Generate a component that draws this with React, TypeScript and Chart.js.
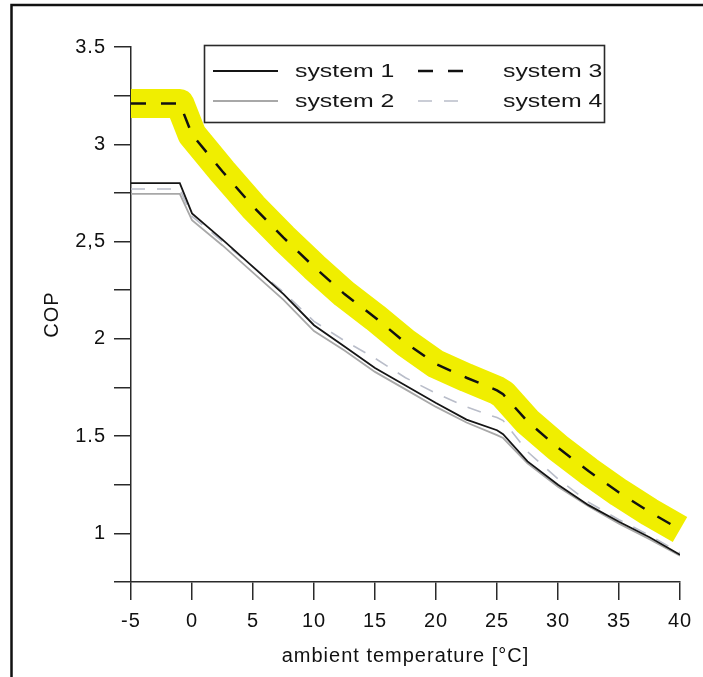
import { useEffect, useRef } from 'react';
import { Chart, registerables } from 'chart.js';

Chart.register(...registerables);

// ---- data ----
const temperatures = [-5, -1, 0, 2.5, 5, 7.5, 10, 12.5, 15, 17.5, 20, 22.5, 25, 25.5, 27.5, 30, 32.5, 35, 37.5, 40];
const system1 = [2.8, 2.8, 2.645, 2.51, 2.37, 2.23, 2.07, 1.96, 1.85, 1.76, 1.67, 1.585, 1.53, 1.51, 1.37, 1.25, 1.145, 1.06, 0.98, 0.89];
const system2 = [2.745, 2.745, 2.61, 2.48, 2.34, 2.2, 2.04, 1.94, 1.83, 1.74, 1.65, 1.57, 1.505, 1.49, 1.36, 1.24, 1.14, 1.05, 0.97, 0.885];
const system3 = [3.21, 3.21, 3.05, 2.86, 2.68, 2.52, 2.37, 2.23, 2.11, 1.98, 1.87, 1.8, 1.735, 1.715, 1.575, 1.44, 1.32, 1.21, 1.11, 1.02];
const system4 = [2.77, 2.77, 2.63, 2.5, 2.37, 2.24, 2.09, 1.99, 1.9, 1.8, 1.72, 1.65, 1.595, 1.58, 1.42, 1.28, 1.16, 1.07, 0.99, 0.9];
const seriesNames = ['system 1', 'system 2', 'system 3', 'system 4'];

const xMin = -5;
const xMax = 40;
const xStep = 5;
const yMin = 0.75;
const yMax = 3.5;
const yStep = 0.25;
const yLabelValues = [1, 1.5, 2, 2.5, 3, 3.5];
const yLabelTexts = ['1', '1.5', '2', '2,5', '3', '3.5'];

const xTitle = 'ambient temperature [°C]';
const yTitle = 'COP';

const FONT = '"Liberation Sans", Arial, sans-serif';

const toPoints = (ys: number[]) => temperatures.map((t, i) => ({ x: t, y: ys[i] }));

const pagePlugin = {
  id: 'pageFrame',
  beforeDraw(chart: any) {
    const ctx = chart.ctx as CanvasRenderingContext2D;
    ctx.save();
    ctx.fillStyle = '#ffffff';
    ctx.fillRect(0, 0, chart.width, chart.height);
    ctx.strokeStyle = '#111';
    ctx.lineWidth = 2.5;
    ctx.beginPath();
    ctx.moveTo(11.5, chart.height);
    ctx.lineTo(11.5, 5);
    ctx.lineTo(chart.width, 5);
    ctx.stroke();
    ctx.restore();
    (ctx as any).letterSpacing = '1px';
  },
};

const boxLegendPlugin = {
  id: 'boxLegend',
  afterDatasetsDraw(chart: any) {
    const ctx = chart.ctx as CanvasRenderingContext2D;
    const box = { x: 204, y: 45, w: 400, h: 77 };
    const rows = [71, 101];
    const cols = [
      { s0: 213, s1: 278, tx: 295 },
      { s0: 418, s1: 470, tx: 503 },
    ];
    const place = [
      { ds: 0, c: 0, r: 0 },
      { ds: 1, c: 0, r: 1 },
      { ds: 2, c: 1, r: 0 },
      { ds: 3, c: 1, r: 1 },
    ];
    ctx.save();
    (ctx as any).letterSpacing = '0px';
    ctx.fillStyle = '#ffffff';
    ctx.fillRect(box.x, box.y, box.w, box.h);
    ctx.strokeStyle = '#2a2a2a';
    ctx.lineWidth = 1.6;
    ctx.strokeRect(box.x + 0.5, box.y + 0.5, box.w, box.h);
    for (const p of place) {
      const ds = chart.data.datasets[p.ds];
      const col = cols[p.c];
      const y = rows[p.r];
      ctx.save();
      ctx.strokeStyle = ds.borderColor;
      ctx.lineWidth = ds.borderWidth;
      ctx.setLineDash(ds.borderDash || []);
      ctx.beginPath();
      ctx.moveTo(col.s0, y);
      ctx.lineTo(col.s1, y);
      ctx.stroke();
      ctx.restore();
      ctx.save();
      ctx.fillStyle = '#161616';
      ctx.font = '18px ' + FONT;
      ctx.textBaseline = 'middle';
      ctx.textAlign = 'left';
      ctx.translate(col.tx, y + 1);
      ctx.scale(1.38, 1);
      ctx.fillText(ds.label, 0, 0);
      ctx.restore();
    }
    ctx.restore();
  },
};

export default function App() {
  const canvasRef = useRef<HTMLCanvasElement | null>(null);

  useEffect(() => {
    const canvas = canvasRef.current;
    if (!canvas) return;
    const chart = new Chart(canvas, {
      type: 'line',
      data: {
        datasets: [
          {
            label: seriesNames[0],
            data: toPoints(system1),
            borderColor: '#151515',
            borderWidth: 1.8,
            pointRadius: 0,
            tension: 0,
            order: 1,
          },
          {
            label: seriesNames[1],
            data: toPoints(system2),
            borderColor: '#a8a8a8',
            borderWidth: 1.8,
            pointRadius: 0,
            tension: 0,
            order: 2,
          },
          {
            label: seriesNames[2],
            data: toPoints(system3),
            borderColor: '#111111',
            borderWidth: 2.5,
            borderDash: [15, 15],
            pointRadius: 0,
            tension: 0,
            order: 0,
          },
          {
            label: seriesNames[3],
            data: toPoints(system4),
            borderColor: '#b9bdc9',
            borderWidth: 1.6,
            borderDash: [14, 12],
            pointRadius: 0,
            tension: 0,
            order: 3,
          },
          {
            label: '',
            data: toPoints(system3),
            borderColor: '#f0ee00',
            borderWidth: 29,
            borderCapStyle: 'butt',
            borderJoinStyle: 'round',
            pointRadius: 0,
            tension: 0,
            order: 10,
            clip: false,
          } as any,
        ],
      },
      options: {
        responsive: false,
        animation: false,
        layout: { padding: { left: 0, top: 47, right: 23, bottom: 0 } },
        plugins: {
          legend: { display: false },
          tooltip: { enabled: false },
        },
        scales: {
          x: {
            type: 'linear',
            min: xMin,
            max: xMax,
            ticks: {
              stepSize: xStep,
              font: { family: FONT, size: 20 },
              color: '#111111',
              padding: 9,
              maxRotation: 0,
              autoSkip: false,
            },
            grid: {
              drawOnChartArea: false,
              drawTicks: true,
              tickLength: 18,
              color: '#2a2a2a',
              lineWidth: 1.5,
            },
            border: { display: true, color: '#2a2a2a', width: 1.5 },
            title: {
              display: true,
              text: xTitle,
              font: { family: FONT, size: 20 },
              color: '#111111',
              padding: { top: 0, bottom: 9 },
            },
            afterFit: (scale: any) => {
              scale.height = 95;
            },
          },
          y: {
            type: 'linear',
            min: yMin,
            max: yMax,
            ticks: {
              stepSize: yStep,
              font: { family: FONT, size: 20 },
              color: '#111111',
              padding: 8,
              autoSkip: false,
              callback: (value: any) => {
                const v = Number(value);
                const i = yLabelValues.findIndex((lv) => Math.abs(lv - v) < 1e-6);
                return i >= 0 ? yLabelTexts[i] : '';
              },
            },
            grid: {
              drawOnChartArea: false,
              drawTicks: true,
              tickLength: 17,
              color: '#2a2a2a',
              lineWidth: 1.5,
            },
            border: { display: true, color: '#2a2a2a', width: 1.5 },
            title: {
              display: true,
              text: yTitle,
              font: { family: FONT, size: 20 },
              color: '#111111',
              padding: { top: 40, bottom: 0 },
            },
            afterFit: (scale: any) => {
              scale.width = 131;
            },
          },
        },
      },
      plugins: [pagePlugin, boxLegendPlugin],
    } as any);
    return () => {
      chart.destroy();
    };
  }, []);

  return (
    <div style={{ position: 'absolute', left: 0, top: 0, width: 703, height: 677, background: '#fff' }}>
      <canvas ref={canvasRef} width={703} height={677} style={{ display: 'block' }} />
    </div>
  );
}
